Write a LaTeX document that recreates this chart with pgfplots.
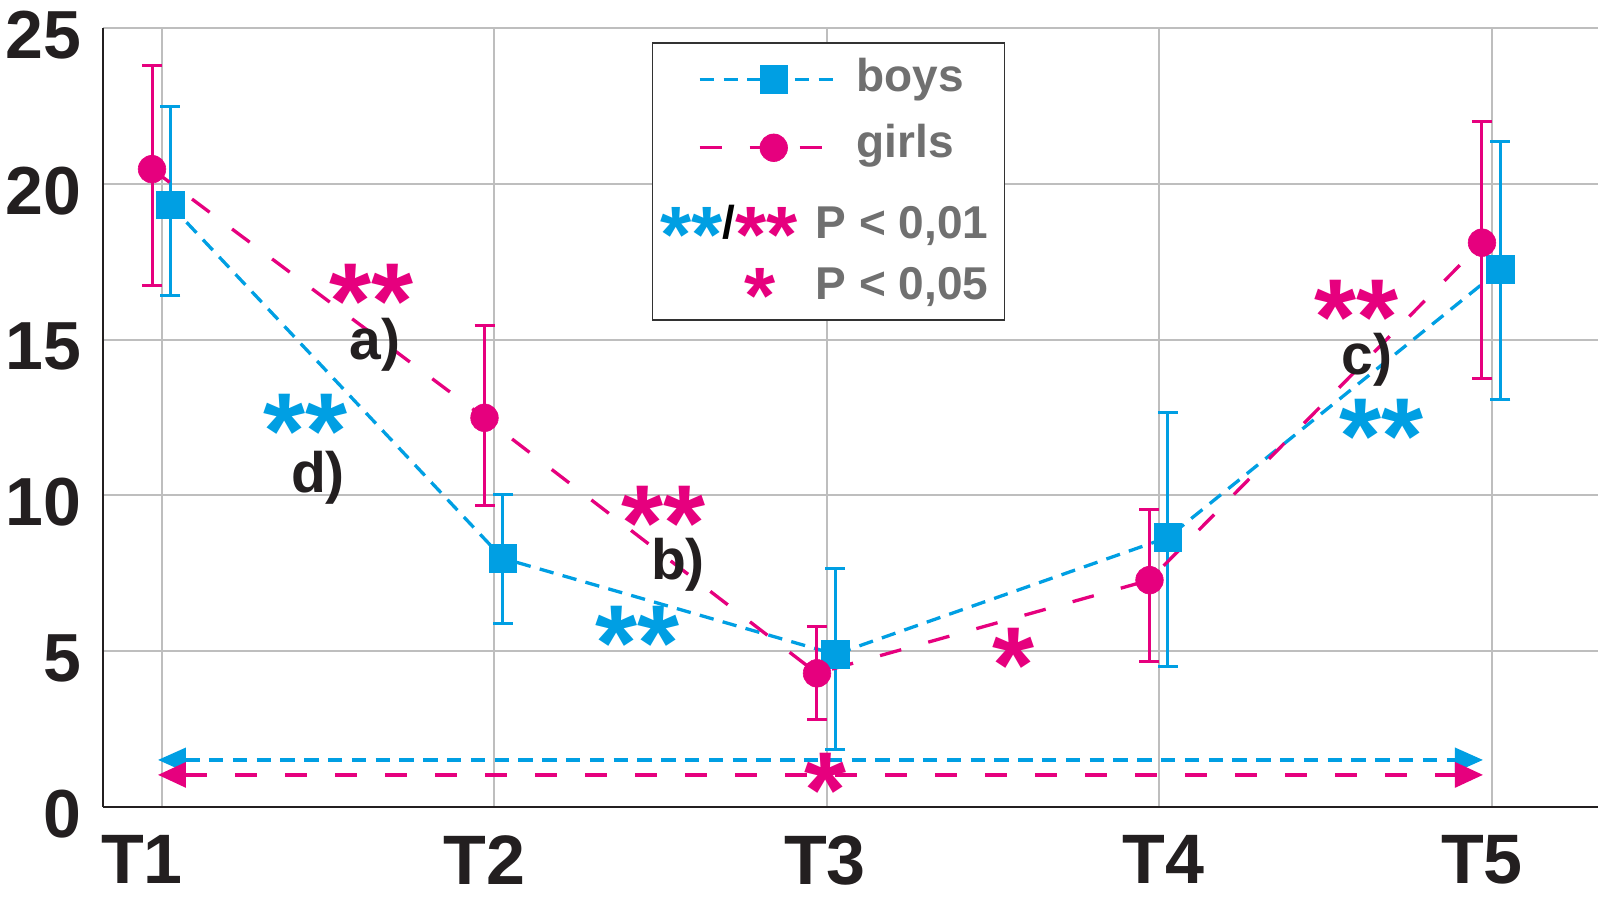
\documentclass[border=0pt]{standalone}
\usepackage{fontspec}
\setmainfont{Liberation Sans}
\usepackage{pgfplots}
\usepackage{pgfplotstable}
\pgfplotsset{compat=1.18}
\usetikzlibrary{arrows.meta}
\definecolor{bblue}{RGB}{0,159,227}
\definecolor{gmag}{RGB}{230,0,126}
\definecolor{gridgray}{RGB}{190,190,190}
\definecolor{axisblack}{RGB}{35,31,32}
\definecolor{leggray}{RGB}{112,112,112}
\definecolor{legframe}{RGB}{50,50,50}
\newcommand{\starfont}{\fontsize{40}{40}\selectfont\bfseries}
\newcommand{\stars}[1]{\raisebox{-17.5pt}[19pt][0pt]{#1}}
\tikzset{
  st/.style={font=\fontsize{54}{54}\selectfont\bfseries, anchor=center, inner sep=0pt},
  lab/.style={font=\fontsize{28.5}{28.5}\selectfont\bfseries, text=axisblack, inner sep=0pt}
}
\pgfplotstableread{
x y ep em
1.025 19.32 3.15 2.91
2.025 7.98 2.05 2.09
3.025 4.90 2.76 3.04
4.025 8.65 4.00 4.15
5.025 17.25 4.10 4.17
}\boys
\pgfplotstableread{
x y ep em
0.970 20.47 3.34 3.74
1.970 12.49 2.95 2.80
2.970 4.29 1.50 1.48
3.970 7.28 2.28 2.62
4.970 18.11 3.88 4.37
}\girls
\begin{document}
\begin{tikzpicture}
\begin{axis}[
  scale only axis, width=747.5pt, height=389.5pt,
  xmin=0.8226, xmax=5.319, ymin=0, ymax=25,
  xtick={1,2,3,4,5},
  xticklabels={{\hspace*{-20pt}T1},{\hspace*{-10pt}T2},{\hspace*{-2pt}T3},{\hspace*{4pt}T4},{\hspace*{-10pt}T5}},
  ytick={0,5,10,15,20,25},
  /pgf/number format/assume math mode=true,
  axis x line=bottom, axis y line=left,
  axis line style={-, line width=1.3pt, color=axisblack},
  every outer x axis line/.append style={-},
  every outer y axis line/.append style={-},
  every inner x axis line/.append style={-},
  every inner y axis line/.append style={-},
  major tick length=0pt,
  grid=major, major grid style={line width=1pt, gridgray},
  xticklabel style={font=\fontsize{35}{35}\selectfont\bfseries, text=axisblack, inner sep=0pt, yshift=-14pt},
  yticklabel style={font=\fontsize{34}{34}\selectfont\bfseries, text=axisblack, inner sep=0pt, xshift=-10.5pt, yshift=-3.5pt},
  clip=false,
  legend cell align=left,
  legend style={at={(axis description cs:0.3672,0.982)}, anchor=north west,
    draw=legframe, line width=0.75pt, fill=white, inner xsep=5pt, inner ysep=0pt,
    row sep=0pt, column sep=0pt,
    nodes={inner sep=0pt, font=\fontsize{23}{23}\selectfont\bfseries, text=leggray}},
  legend image code/.code={
    \path[draw=none, fill=none] (0pt,0pt) -- (97pt,0pt);
    \draw[mark repeat=2,mark phase=2,#1] plot coordinates {(18.5pt,0pt) (55.5pt,0pt) (88pt,0pt)};
  },
]
% long arrows
\addplot[forget plot, bblue, line width=1.65pt, dash pattern=on 7.2pt off 4.7pt,
  >={Triangle[length=14pt,width=12pt]}, <->] coordinates {(0.988,1.51) (4.973,1.51)};
\addplot[forget plot, gmag, line width=1.65pt, dash pattern=on 11pt off 14pt,
  >={Triangle[length=14pt,width=12.5pt]}, <->] coordinates {(0.988,1.03) (4.973,1.03)};
% boys
\addplot[bblue, line width=1.65pt, dash pattern=on 7.2pt off 4.7pt,
  mark=square*, mark size=6.9pt, mark options={solid, fill=bblue, draw=bblue, line width=0.3pt},
  error bars/.cd, y dir=both, y explicit,
  error bar style={solid, line width=1.5pt},
  error mark options={rotate=90, solid, line width=1.5pt, mark size=5pt}]
  table[x=x, y=y, y error plus=ep, y error minus=em] {\boys};
\addlegendentry{\raisebox{10.5pt}[35pt][0pt]{boys}}
% girls
\addplot[gmag, line width=1.65pt, dash pattern=on 11pt off 14pt,
  mark=*, mark size=6.9pt, mark options={solid, fill=gmag, draw=gmag, line width=0.3pt},
  error bars/.cd, y dir=both, y explicit,
  error bar style={solid, line width=1.5pt},
  error mark options={rotate=90, solid, line width=1.5pt, mark size=5pt}]
  table[x=x, y=y, y error plus=ep, y error minus=em] {\girls};
\addlegendentry{\raisebox{9.5pt}[30.5pt][0pt]{girls}}
\addlegendimage{empty legend}
\addlegendentry{\raisebox{8pt}[37.5pt][0pt]{\hspace*{-98pt}\makebox[77.5pt][l]{\raisebox{-12pt}{\starfont\textcolor{bblue}{**}}\textcolor{black}{/}\raisebox{-12pt}{\starfont\textcolor{gmag}{**}}}P < 0,01\hspace*{3pt}}}
\addlegendimage{empty legend}
\addlegendentry{\raisebox{8.5pt}[29.5pt][0pt]{\hspace*{-98pt}\makebox[77.5pt][l]{\hspace*{42pt}\raisebox{-12pt}{\starfont\textcolor{gmag}{*}}}P < 0,05}}
% annotations
\node[st, text=gmag] at (axis cs:1.629,16.78) {\stars{**}};
\node[lab] at (axis cs:1.641,14.83) {a)};
\node[st, text=bblue] at (axis cs:1.433,12.61) {\stars{**}};
\node[lab] at (axis cs:1.469,10.56) {d)};
\node[st, text=gmag] at (axis cs:2.507,9.63) {\stars{**}};
\node[lab] at (axis cs:2.552,7.77) {b)};
\node[st, text=bblue] at (axis cs:2.429,5.78) {\stars{**}};
\node[st, text=gmag] at (axis cs:4.594,16.24) {\stars{**}};
\node[lab] at (axis cs:4.624,14.35) {c)};
\node[st, text=bblue] at (axis cs:4.669,12.45) {\stars{**}};
\node[st, text=gmag] at (axis cs:3.562,5.10) {\stars{*}};
\node[st, text=gmag] at (axis cs:2.997,1.06) {\stars{*}};
\end{axis}
\pgfresetboundingbox
\path[use as bounding box] ([shift={(-51.5pt,-45pt)}]current axis.south west) rectangle ([shift={(6pt,14pt)}]current axis.north east);
\end{tikzpicture}
\end{document}
